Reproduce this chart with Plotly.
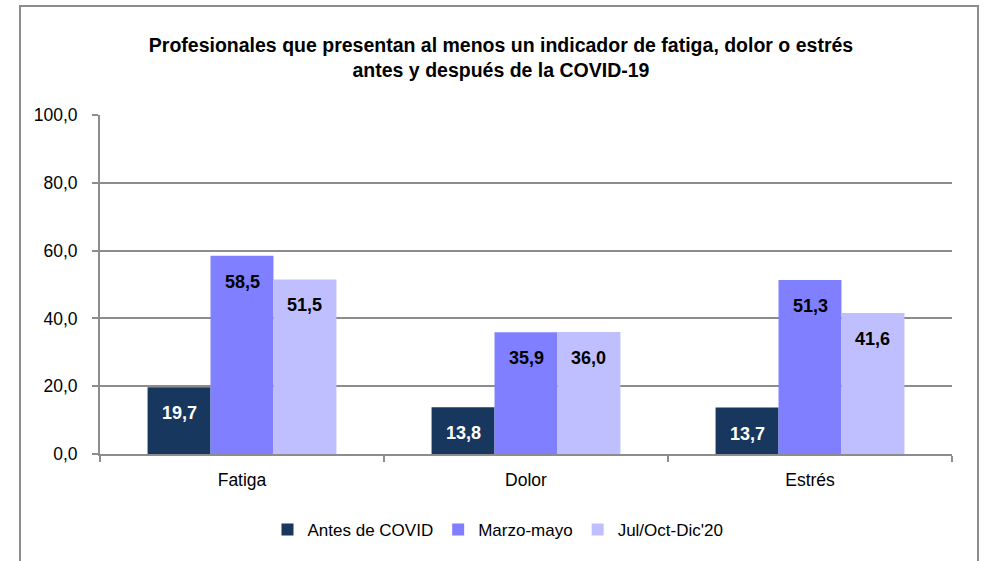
import plotly.graph_objects as go

categories = ["Fatiga", "Dolor", "Estrés"]
series_names = ["Antes de COVID", "Marzo-mayo", "Jul/Oct-Dic'20"]
antes = [19.7, 13.8, 13.7]
marzo = [58.5, 35.9, 51.3]
jul = [51.5, 36.0, 41.6]
series_values = [antes, marzo, jul]
colors = ["#17375E", "#7F7FFF", "#BFBFFF"]
label_colors = ["white", "black", "black"]
tick_vals = [0, 20, 40, 60, 80, 100]
tick_text = ["0,0", "20,0", "40,0", "60,0", "80,0", "100,0"]

FONT = "Liberation Sans, Arial, sans-serif"

L, R, T, B = 100, 32, 115, 107
W, H = 984, 561
pw = W - L - R
ph = H - T - B
BARGAP = 0.335
bar_w = pw / len(categories) * (1 - BARGAP) / len(series_names)

fig = go.Figure()
annotations = []
n = len(series_names)
for i, (name, vals, col, lc) in enumerate(zip(series_names, series_values, colors, label_colors)):
    fig.add_trace(go.Bar(
        x=categories, y=vals, name=name,
        marker=dict(color=col, line=dict(width=0)),
        hoverinfo="skip",
    ))
    for c, v in zip(categories, vals):
        annotations.append(dict(
            x=c, y=v, xref="x", yref="y",
            text="<b>" + f"{v:.1f}".replace(".", ",") + "</b>",
            showarrow=False, xanchor="center", yanchor="middle",
            xshift=(i - (n - 1) / 2) * bar_w, yshift=-26,
            font=dict(family=FONT, size=18, color=lc),
        ))

fig.update_layout(
    width=W, height=H,
    margin=dict(l=L, r=R, t=T, b=B),
    paper_bgcolor="white", plot_bgcolor="white",
    barmode="group", bargap=BARGAP, bargroupgap=0,
    font=dict(family=FONT, size=17, color="black"),
    title=dict(
        text="<b>Profesionales que presentan al menos un indicador de fatiga, dolor o estrés<br>antes y después de la COVID-19</b>",
        x=(501 - L) / pw, xref="paper", xanchor="center",
        y=1 - 52 / H, yanchor="middle",
        font=dict(family=FONT, size=19.5, color="black"),
    ),
    showlegend=True,
    legend=dict(
        orientation="h", x=(498 - L) / pw, xanchor="center",
        y=-(530 - (T + ph)) / ph, yanchor="middle",
        font=dict(family=FONT, size=17, color="black"),
        itemwidth=30, traceorder="normal",
    ),
    xaxis=dict(
        type="category", showline=True, linecolor="#8C8C8C", linewidth=2,
        ticks="outside", tickson="boundaries", ticklen=6, tickcolor="#8C8C8C", tickwidth=2,
        showgrid=False, tickfont=dict(family=FONT, size=17.5), ticklabelstandoff=9,
    ),
    yaxis=dict(
        range=[0, 100], tickvals=tick_vals, ticktext=tick_text,
        showline=True, linecolor="#8C8C8C", linewidth=2,
        ticks="outside", ticklen=6, tickcolor="#8C8C8C", tickwidth=2,
        showgrid=True, gridcolor="#8C8C8C", gridwidth=2, zeroline=False,
        tickfont=dict(family=FONT, size=17.5), ticklabelstandoff=11,
    ),
    annotations=annotations,
    shapes=[dict(
        type="rect", xref="paper", yref="paper",
        x0=(20 - L) / pw, x1=(978 - L) / pw,
        y0=-(575 - (T + ph)) / ph, y1=1 + (T - 6) / ph,
        line=dict(color="#8C8C8C", width=2), fillcolor="rgba(0,0,0,0)", layer="below",
    )],
)

fig.write_html("out.html", config={"displayModeBar": False},
               post_script="document.body.style.margin='0';")
